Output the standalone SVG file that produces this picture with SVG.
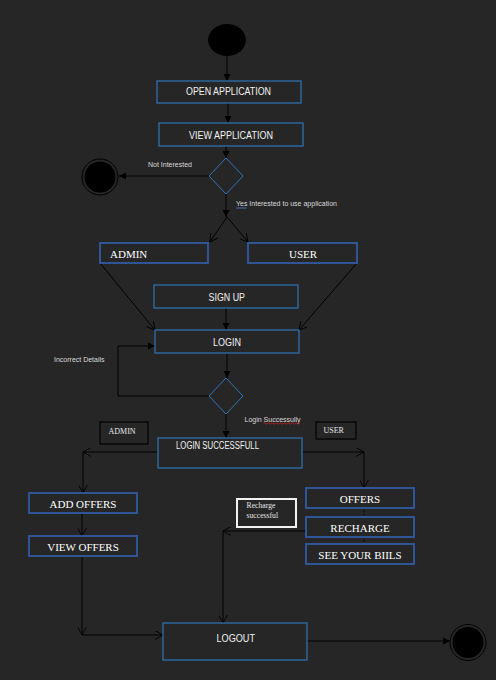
<svg xmlns="http://www.w3.org/2000/svg" width="496" height="680" viewBox="0 0 496 680">
<style>
.bg{fill:#262626}
.sb{fill:#262626;stroke:#2e75b6;stroke-width:1.2}
.tb{fill:#262626;stroke:#2f5597;stroke-width:2}
.kb{fill:none;stroke:#000;stroke-width:1.2}
.dm{fill:none;stroke:#2e75b6;stroke-width:1}
.st{font-family:"Liberation Sans",Arial,sans-serif;font-size:10px;fill:#f2f2f2}
.tt{font-family:"Liberation Serif","Times New Roman",serif;font-size:11px;fill:#ffffff}
.sm{font-family:"Liberation Serif","Times New Roman",serif;font-size:8px;fill:#e6e6e6}
.lb{font-family:"Liberation Sans",Arial,sans-serif;font-size:7px;fill:#d9d9d9}
.c line,.c polyline{stroke:#000;stroke-width:1;fill:none}
.f{marker-end:url(#af)}
.o{marker-end:url(#ao)}
</style>
<defs>
<marker id="af" viewBox="0 0 8 8" refX="8" refY="4" markerWidth="7" markerHeight="7" markerUnits="userSpaceOnUse" orient="auto">
<path d="M0,0 L8,4 L0,8 z" fill="#000"/>
</marker>
<marker id="ao" viewBox="0 0 10 10" refX="9" refY="5" markerWidth="9" markerHeight="9" markerUnits="userSpaceOnUse" orient="auto">
<path d="M0,0 L9,5 L0,10" fill="none" stroke="#000" stroke-width="1"/>
</marker>
</defs>
<rect class="bg" x="0" y="0" width="496" height="680"/>

<g id="connectors" class="c">
<line class="f" x1="227" y1="56" x2="227" y2="81"/>
<line class="f" x1="228" y1="103" x2="228" y2="123"/>
<line class="f" x1="226" y1="146" x2="226" y2="158"/>
<line class="f" x1="209" y1="176" x2="119" y2="176"/>
<line class="f" x1="226" y1="194" x2="226" y2="217"/>
<line class="o" x1="227" y1="217" x2="210" y2="242"/>
<line class="o" x1="227" y1="217" x2="248" y2="242"/>
<line class="o" x1="100" y1="263" x2="155" y2="330"/>
<line class="o" x1="357" y1="263" x2="299" y2="330"/>
<line class="f" x1="226" y1="308" x2="226" y2="330"/>
<line class="f" x1="227" y1="353" x2="227" y2="378"/>
<polyline class="f" points="209,396 118,396 118,346 155,346"/>
<line class="f" x1="226" y1="414" x2="226" y2="438"/>
<line class="o" x1="158" y1="452" x2="83" y2="452"/>
<line class="o" x1="83" y1="452" x2="83" y2="493"/>
<line class="o" x1="82" y1="513" x2="82" y2="536"/>
<line class="o" x1="82" y1="556" x2="82" y2="635"/>
<line class="o" x1="82" y1="635" x2="163" y2="635"/>
<line class="o" x1="299" y1="452" x2="364" y2="452"/>
<line class="o" x1="364" y1="452" x2="364" y2="488"/>
<line x1="364" y1="508" x2="364" y2="517" stroke-dasharray="1.5,1.5"/>
<line x1="364" y1="537" x2="364" y2="544" stroke-dasharray="1.5,1.5"/>
<line class="o" x1="306" y1="531" x2="223" y2="531"/>
<line class="o" x1="223" y1="531" x2="223" y2="623"/>
<line class="f" x1="307" y1="641" x2="450" y2="641"/>
</g>

<g id="start"><ellipse cx="227" cy="40" rx="19" ry="16" fill="#000"/></g>

<g id="open-application"><rect class="sb" x="157" y="81" width="144" height="22"/><text class="st" x="186" y="95" textLength="85" lengthAdjust="spacingAndGlyphs">OPEN APPLICATION</text></g>
<g id="view-application"><rect class="sb" x="159" y="123" width="144" height="23"/><text class="st" x="189" y="139" textLength="84" lengthAdjust="spacingAndGlyphs">VIEW APPLICATION</text></g>

<g id="decision-interest"><path class="dm" d="M226,158 L243,176 L226,194 L209,176 Z"/></g>
<g id="end-not-interested"><circle cx="100" cy="177" r="18" fill="none" stroke="#000" stroke-width="1"/><circle cx="100" cy="177" r="15.5" fill="#000"/></g>
<g id="label-not-interested"><text class="lb" x="148" y="167">Not Interested</text></g>
<g id="label-yes"><text class="lb" x="236" y="206">Yes Interested to use application</text><line x1="236" y1="208" x2="246.5" y2="208" stroke="#4472c4" stroke-width="1"/></g>

<g id="admin"><rect class="tb" x="100" y="243" width="108" height="20"/><text class="tt" x="110" y="258">ADMIN</text></g>
<g id="user"><rect class="tb" x="248" y="243" width="109" height="20"/><text class="tt" x="289" y="258">USER</text></g>

<g id="sign-up"><rect class="sb" x="154" y="285" width="144" height="23"/><text class="st" x="208.5" y="301" textLength="36.5" lengthAdjust="spacingAndGlyphs">SIGN UP</text></g>
<g id="login"><rect class="sb" x="155" y="330" width="144" height="23"/><text class="st" x="213" y="346" textLength="28" lengthAdjust="spacingAndGlyphs">LOGIN</text></g>

<g id="decision-login"><path class="dm" d="M226,378 L243,396 L226,414 L209,396 Z"/></g>
<g id="label-incorrect"><text class="lb" x="54" y="361.5">Incorrect Details</text></g>
<g id="label-login-success"><text class="lb" x="244.5" y="421.5">Login Successully</text><path d="M263.5,423.5 q1,-1.2 2,0 t2,0 t2,0 t2,0 t2,0 t2,0 t2,0 t2,0 t2,0 t2,0 t2,0 t2,0 t2,0 t2,0 t2,0 t2,0 t2,0 t2,0" fill="none" stroke="#e02020" stroke-width="0.8"/></g>

<g id="admin-tag"><rect class="kb" x="100" y="422" width="48" height="22"/><text class="sm" x="108.5" y="434">ADMIN</text></g>
<g id="user-tag"><rect class="kb" x="316" y="422" width="40" height="17"/><text class="sm" x="323.5" y="432.5">USER</text></g>

<g id="login-successfull"><rect class="sb" x="158" y="438" width="144" height="30"/><text class="st" x="176" y="449" textLength="83" lengthAdjust="spacingAndGlyphs">LOGIN SUCCESSFULL</text></g>

<g id="add-offers"><rect class="tb" x="29" y="493" width="108" height="20"/><text class="tt" x="83" y="507.5" text-anchor="middle">ADD OFFERS</text></g>
<g id="view-offers"><rect class="tb" x="29" y="536" width="108" height="20"/><text class="tt" x="83" y="550.5" text-anchor="middle">VIEW OFFERS</text></g>

<g id="offers"><rect class="tb" x="306" y="488" width="108" height="20"/><text class="tt" x="360" y="502.5" text-anchor="middle">OFFERS</text></g>
<g id="recharge"><rect class="tb" x="306" y="517" width="108" height="20"/><text class="tt" x="360" y="531.5" text-anchor="middle">RECHARGE</text></g>
<g id="see-your-bills"><rect class="tb" x="306" y="544" width="108" height="20"/><text class="tt" x="360" y="559" text-anchor="middle">SEE YOUR BIILS</text></g>

<g id="recharge-successful"><rect x="237" y="499" width="59" height="28" fill="#262626" stroke="#f2f2f2" stroke-width="2"/><text class="sm" x="246.5" y="508" style="font-size:7.7px">Recharge</text><text class="sm" x="246.5" y="517.5" style="font-size:7.7px">successful</text></g>

<g id="logout"><rect class="sb" x="163" y="623" width="144" height="37"/><text class="st" x="216.5" y="642" textLength="38.5" lengthAdjust="spacingAndGlyphs">LOGOUT</text></g>

<g id="end-final"><circle cx="468" cy="642.5" r="18" fill="none" stroke="#000" stroke-width="1"/><circle cx="468" cy="642.5" r="15.5" fill="#000"/></g>
</svg>
